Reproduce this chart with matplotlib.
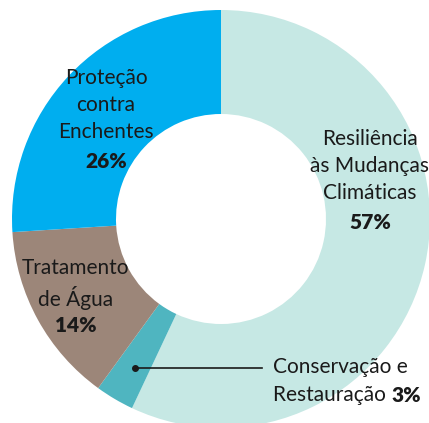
import matplotlib.pyplot as plt

# data
labels = ["Resiliência\nàs Mudanças\nClimáticas", "Conservação e\nRestauração",
          "Tratamento\nde Água", "Proteção\ncontra\nEnchentes"]
shares = [57, 3, 14, 26]
colors = ["#c6e8e4", "#4fb5c0", "#9c8679", "#00aeef"]

W, H = 429, 423
plt.rcParams['font.family'] = ['Lato', 'DejaVu Sans']
txt = "#1a1a1a"
fs = 15

fig = plt.figure(figsize=(W / 100, H / 100), dpi=100)
ax = fig.add_axes([0, 0, 1, 1])

# pie centre / radius in pixel units (y measured from top)
cx, cy, r_out, r_in = 221, 219, 209, 105
ax.pie(shares, colors=colors, startangle=90, counterclock=False,
       radius=r_out, center=(cx, H - cy),
       wedgeprops=dict(width=r_out - r_in, linewidth=0))
ax.set_xlim(0, W)
ax.set_ylim(0, H)
ax.set_aspect('equal')
ax.axis('off')


def put(x, y, s, weight='normal', ha='center'):
    return ax.text(x, H - y, s, ha=ha, va='center', fontsize=fs, color=txt,
                   fontweight=weight, linespacing=1.43)


# Resiliência
put(370, 166, labels[0])
put(370, 222, f"{shares[0]}%", weight='heavy')
# Proteção
put(106, 105, labels[3])
put(106, 161, f"{shares[3]}%", weight='heavy')
# Tratamento
put(76, 284, labels[2])
put(76, 326, f"{shares[2]}%", weight='heavy')
# Conservação (leader line)
put(273, 367, "Conservação e", ha='left')
t = put(273, 395, "Restauração ", ha='left')
fig.canvas.draw()
bb = t.get_window_extent()
x_end = ax.transData.inverted().transform((bb.x1, bb.y0))[0]
put(x_end, 395, f"{shares[1]}%", weight='heavy', ha='left')
ax.plot([135, 262], [H - 368, H - 368], color=txt, lw=1.2)
ax.plot([135], [H - 368], 'o', color=txt, ms=4)

fig.savefig("out.png", dpi=100)
